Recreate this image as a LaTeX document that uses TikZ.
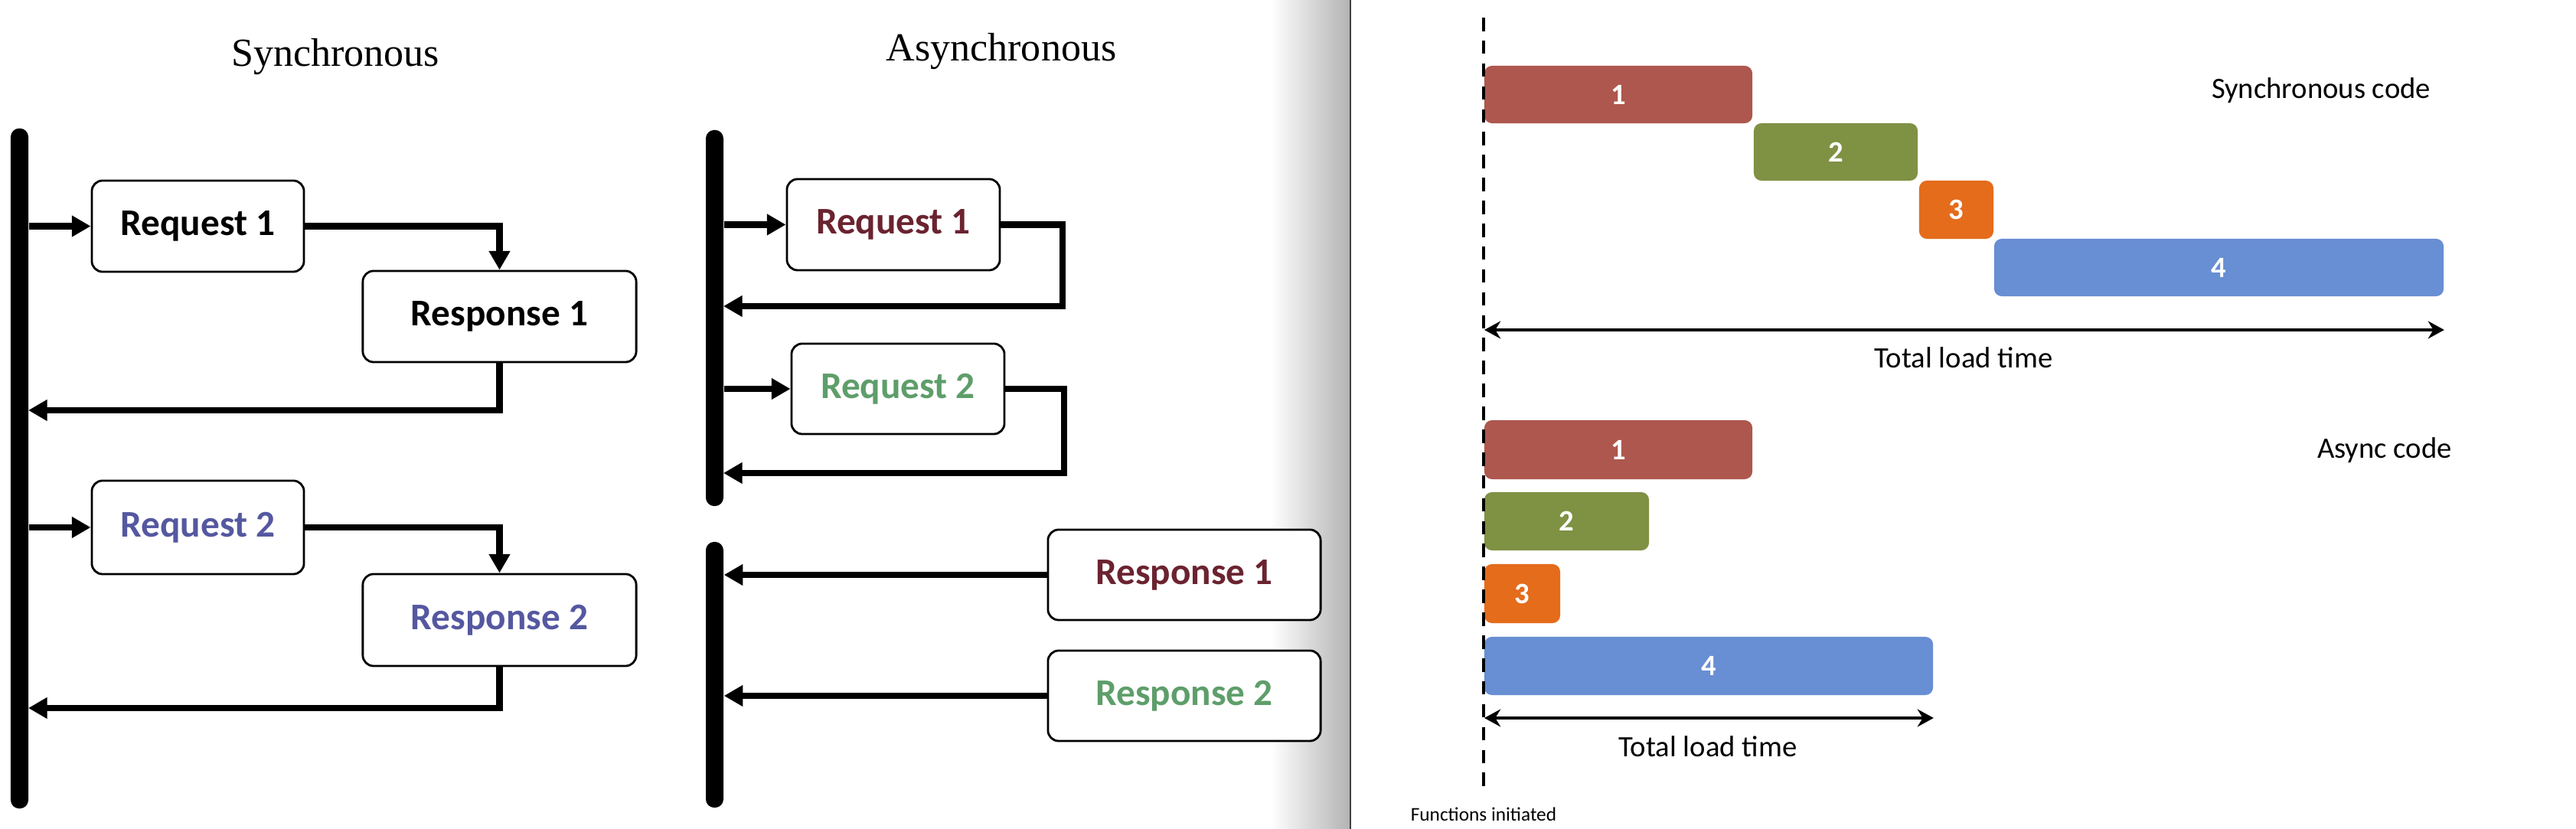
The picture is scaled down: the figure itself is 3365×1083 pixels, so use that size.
\documentclass[tikz,border=0pt]{standalone}
\usepackage{fontspec}
\usetikzlibrary{arrows.meta}
\newfontfamily\carlito{Carlito}
\newfontfamily\libserif{Liberation Serif}
\definecolor{barred}{HTML}{AE574E}
\definecolor{bargreen}{HTML}{7F9143}
\definecolor{barorange}{HTML}{E46C1B}
\definecolor{barblue}{HTML}{688ED3}
\definecolor{txtblue}{HTML}{5558A0}
\definecolor{txtmaroon}{HTML}{6B2330}
\definecolor{txtgreen}{HTML}{5E9E6A}
\tikzset{
  vbar/.style={fill=black, draw=none, rounded corners=0.11cm, minimum width=0.23cm, inner sep=0pt},
  msgbox/.style={draw=black, line width=0.8pt, rounded corners=0.14cm, fill=white, inner sep=0pt,
    font=\carlito\bfseries\fontsize{14}{16}\selectfont},
  conn/.style={line width=2.3pt, -{Triangle[length=7pt,width=7.5pt]}},
  gbar/.style={draw=none, rounded corners=0.1cm, inner sep=0pt, text=white,
    font=\carlito\bfseries\fontsize{11}{13}\selectfont},
  lbl/.style={font=\carlito\fontsize{11}{13}\selectfont, inner sep=0pt},
  dim/.style={line width=1.4pt, {Stealth[length=6pt,width=6.5pt]}-{Stealth[length=6pt,width=6.5pt]}},
  ttl/.style={font=\libserif\fontsize{14.8}{17}\selectfont, inner sep=0pt, anchor=base}
}
\begin{document}
\begin{tikzpicture}[x=0.01cm,y=-0.01cm]
\useasboundingbox (0,0) rectangle (3365,1083);
\fill[white] (0,0) rectangle (3365,1083);
% page shadow between panels
\shade[left color=white, right color=black!30, draw=none] (1660,0) rectangle (1764,1083);
\draw[black!75, line width=0.5pt] (1764,0) -- (1764,1083);

% ---------------- Synchronous ----------------
\node[ttl] (tsync) at (438,87) {Synchronous};
\node[vbar, minimum height=8.88cm] (sbar) at (25.5,612) {};
\node[msgbox, minimum width=2.77cm, minimum height=1.19cm] (sreq1) at (258.5,295.5) {Request 1};
\node[msgbox, minimum width=3.57cm, minimum height=1.19cm] (sresp1) at (652.5,413.5) {Response 1};
\node[msgbox, minimum width=2.77cm, minimum height=1.22cm, text=txtblue] (sreq2) at (258.5,689) {Request 2};
\node[msgbox, minimum width=3.57cm, minimum height=1.20cm, text=txtblue] (sresp2) at (652.5,810) {Response 2};
\coordinate (sret1) at (37,536);
\coordinate (sret2) at (37,925);
\draw[conn] (sbar.east |- sreq1.west) -- (sreq1.west);
\draw[conn] (sreq1.east) -| (sresp1.north);
\draw[conn] (sresp1.south) |- (sret1);
\draw[conn] (sbar.east |- sreq2.west) -- (sreq2.west);
\draw[conn] (sreq2.east) -| (sresp2.north);
\draw[conn] (sresp2.south) |- (sret2);

% ---------------- Asynchronous ----------------
\node[ttl] (tasync) at (1308,80) {Asynchronous};
\node[vbar, minimum height=4.91cm] (abar1) at (933.5,415.5) {};
\node[vbar, minimum height=3.47cm] (abar2) at (933.5,881.5) {};
\node[msgbox, minimum width=2.78cm, minimum height=1.19cm, text=txtmaroon] (areq1) at (1167,293.5) {Request 1};
\node[msgbox, minimum width=2.78cm, minimum height=1.18cm, text=txtgreen] (areq2) at (1173,508) {Request 2};
\node[msgbox, minimum width=3.56cm, minimum height=1.18cm, text=txtmaroon] (aresp1) at (1547,751) {Response 1};
\node[msgbox, minimum width=3.56cm, minimum height=1.18cm, text=txtgreen] (aresp2) at (1547,909) {Response 2};
\coordinate (aloop1) at (1388,293.5);
\coordinate (aret1) at (945,400);
\coordinate (aloop2) at (1390,508);
\coordinate (aret2) at (945,618);
\draw[conn] (abar1.east |- areq1.west) -- (areq1.west);
\draw[conn] (areq1.east) -- (aloop1) |- (aret1);
\draw[conn] (abar1.east |- areq2.west) -- (areq2.west);
\draw[conn] (areq2.east) -- (aloop2) |- (aret2);
\draw[conn] (aresp1.west) -- (abar2.east |- aresp1.west);
\draw[conn] (aresp2.west) -- (abar2.east |- aresp2.west);

% ---------------- Timeline panel ----------------
\node[gbar, fill=barred, minimum width=3.50cm, minimum height=0.75cm] (b1) at (2114,123.5) {1};
\node[gbar, fill=bargreen, minimum width=2.14cm, minimum height=0.75cm] (b2) at (2398,198.5) {2};
\node[gbar, fill=barorange, minimum width=0.97cm, minimum height=0.76cm] (b3) at (2555.5,274) {3};
\node[gbar, fill=barblue, minimum width=5.87cm, minimum height=0.75cm] (b4) at (2898.5,349.5) {4};
\node[lbl] (lsync) at (3032,118) {Synchronous code};

\node[gbar, fill=barred, minimum width=3.50cm, minimum height=0.77cm] (c1) at (2114,587.5) {1};
\node[gbar, fill=bargreen, minimum width=2.15cm, minimum height=0.76cm] (c2) at (2046.5,681) {2};
\node[gbar, fill=barorange, minimum width=0.99cm, minimum height=0.77cm] (c3) at (1988.5,775.5) {3};
\node[gbar, fill=barblue, minimum width=5.86cm, minimum height=0.76cm] (c4) at (2232,870) {4};
\node[lbl] (lasync) at (3115,588) {Async code};

\coordinate (dtop) at (1938,23);
\coordinate (dbot) at (1938,1035);
\draw[line width=1pt, dash pattern=on 5pt off 3.5pt] (dtop) -- (dbot);

\coordinate (sl) at (1939,431);
\coordinate (al) at (1939,938);
\draw[dim] (sl) -- (b4.east |- sl);
\draw[dim] (al) -- (c4.east |- al);
\node[lbl] (tl1) at (2565,467) {Total load time};
\node[lbl] (tl2) at (2231,975) {Total load time};
\node[font=\carlito\fontsize{7.2}{9}\selectfont, inner sep=0pt] (finit) at (1938,1064) {Functions initiated};
\end{tikzpicture}
\end{document}
